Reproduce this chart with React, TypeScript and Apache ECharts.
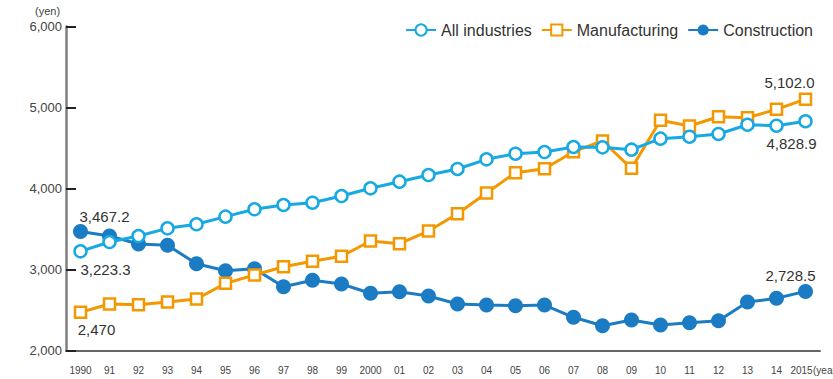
import React, { useEffect, useRef } from "react";
import * as echarts from "echarts";

const years = ["1990","91","92","93","94","95","96","97","98","99","2000","01","02","03","04","05","06","07","08","09","10","11","12","13","14","2015"];
const allIndustries = [3223.3,3338,3412,3507,3557,3651,3742,3795,3823,3906,4001,4083,4165,4240,4359,4428,4449,4511,4507,4478,4614,4638,4672,4786,4774,4828.9];
const manufacturing = [2470,2573,2564,2598,2635,2828,2931,3033,3100,3162,3351,3317,3474,3688,3943,4194,4243,4453,4585,4248,4841,4770,4885,4873,4976,5102.0];
const construction = [3467.2,3412,3314,3298,3070,2984,3009,2786,2865,2820,2705,2725,2672,2573,2560,2552,2560,2409,2305,2375,2314,2342,2367,2598,2643,2728.5];

const CYAN = "#17a9e3";
const ORANGE = "#f39800";
const BLUE = "#1b7cc4";
const FONT = "'Liberation Sans', Arial, Helvetica, sans-serif";

const fmt = (v: number, d: number) =>
  v.toLocaleString("en-US", { minimumFractionDigits: d, maximumFractionDigits: d });

function withLabels(values: number[], labels: Record<number, any>) {
  return values.map((v, i) =>
    labels[i] ? { value: v, label: { show: true, ...labels[i] } } : v
  );
}

export default function App() {
  const ref = useRef<HTMLDivElement>(null);
  useEffect(() => {
    if (!ref.current) return;
    const chart = echarts.init(ref.current, null, { renderer: "svg" });
    const lblStyle = { color: "#333", fontSize: 15, fontFamily: FONT };
    const last = years.length - 1;
    chart.setOption({
      animation: false,
      backgroundColor: "#fff",
      grid: { left: 66, right: 13, top: 26.4, bottom: 28.6, containLabel: false },
      legend: {
        top: 17,
        right: 15,
        itemWidth: 30,
        itemHeight: 14,
        itemGap: 9,
        textStyle: { color: "#333", fontSize: 16, fontFamily: FONT },
        data: ["All industries", "Manufacturing", "Construction"],
      },
      xAxis: {
        type: "category",
        data: years,
        boundaryGap: true,
        axisLine: { lineStyle: { color: "#666", width: 2 } },
        axisTick: { inside: true, length: 5, interval: 0, lineStyle: { color: "#444", width: 1.5 } },
        axisLabel: {
          color: "#444",
          fontSize: 10,
          fontFamily: FONT,
          margin: 15,
          interval: 0,
          formatter: (v: string, i: number) => (i === last ? `{l|${v}}` : v),
          rich: { l: { fontSize: 10, fontFamily: FONT, color: "#444", padding: [0, 8, 0, 0] } },
        },
      },
      yAxis: {
        type: "value",
        min: 2000,
        max: 6000,
        interval: 1000,
        splitLine: { show: false },
        axisLine: { show: true, lineStyle: { color: "#808080", width: 2.5 } },
        axisTick: { show: true, inside: true, length: 10, lineStyle: { color: "#222", width: 2 } },
        axisLabel: {
          color: "#444",
          fontSize: 13,
          fontFamily: FONT,
          margin: 4,
          formatter: (v: number) => v.toLocaleString("en-US"),
        },
      },
      graphic: [
        { type: "text", left: 35, top: 5, style: { text: "(yen)", fontSize: 11, fontFamily: FONT, fill: "#444" } },
        { type: "text", left: 813, top: 365, style: { text: "(year)", fontSize: 10, fontFamily: FONT, fill: "#444" } },
      ],
      series: [
        {
          name: "All industries",
          type: "line",
          z: 4,
          data: withLabels(allIndustries, {
            0: { position: "bottom", offset: [25, -2], formatter: () => fmt(allIndustries[0], 1), ...lblStyle },
            [last]: { position: "bottom", offset: [-14, 2], formatter: () => fmt(allIndustries[last], 1), ...lblStyle },
          }),
          symbol: "circle",
          symbolSize: 12,
          lineStyle: { color: CYAN, width: 3 },
          itemStyle: { color: "#fff", borderColor: CYAN, borderWidth: 2.5 },
        },
        {
          name: "Manufacturing",
          type: "line",
          z: 3,
          data: withLabels(manufacturing, {
            0: { position: "bottom", offset: [16, -2], formatter: () => fmt(manufacturing[0], 0), ...lblStyle },
            [last]: { position: "top", offset: [-16, 3], formatter: () => fmt(manufacturing[last], 1), ...lblStyle },
          }),
          symbol: "rect",
          symbolSize: 11,
          lineStyle: { color: ORANGE, width: 3 },
          itemStyle: { color: "#fff", borderColor: ORANGE, borderWidth: 2.5 },
        },
        {
          name: "Construction",
          type: "line",
          z: 2,
          data: withLabels(construction, {
            0: { position: "top", offset: [24, 5], formatter: () => fmt(construction[0], 1), ...lblStyle },
            [last]: { position: "top", offset: [-15, 4], formatter: () => fmt(construction[last], 1), ...lblStyle },
          }),
          symbol: "circle",
          symbolSize: 15,
          lineStyle: { color: BLUE, width: 3 },
          itemStyle: { color: BLUE },
        },
      ],
    });
    return () => chart.dispose();
  }, []);
  return <div ref={ref} style={{ width: 833, height: 379, position: "absolute", left: 0, top: 0 }} />;
}
